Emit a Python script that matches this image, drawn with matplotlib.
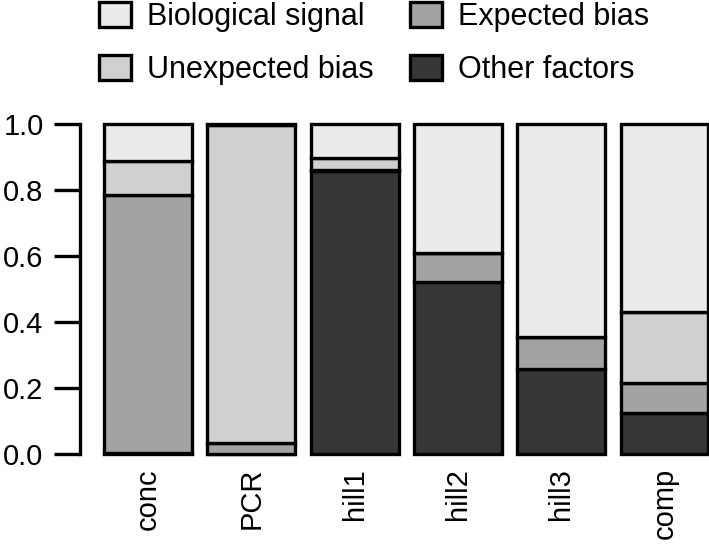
import matplotlib
matplotlib.use('Agg')
import matplotlib.pyplot as plt
import numpy as np

plt.rcParams['font.family'] = ['Liberation Sans', 'DejaVu Sans']

# stacked shares, bottom to top
categories = ['conc', 'PCR', 'hill1', 'hill2', 'hill3', 'comp']
other = [0.003, 0.0, 0.858, 0.520, 0.257, 0.123]
expected = [0.782, 0.034, 0.002, 0.090, 0.099, 0.093]
unexpected = [0.104, 0.963, 0.038, 0.0, 0.0, 0.213]
bio = [0.111, 0.003, 0.102, 0.390, 0.644, 0.571]

labels = ['Other factors', 'Expected bias', 'Unexpected bias', 'Biological signal']
colors = ['#363636', '#a3a3a3', '#d0d0d0', '#ebebeb']

W, H = 709, 545
fig = plt.figure(figsize=(W / 100, H / 100), dpi=100)
ax = fig.add_axes([95 / W, (H - 454) / H, 1 - 95 / W, (454 - 124) / H])

x = np.arange(len(categories))
bottom = np.zeros(len(categories))
handles = {}
for vals, lab, col in zip([other, expected, unexpected, bio], labels, colors):
    b = ax.bar(x, vals, width=0.85, bottom=bottom, color=col,
               edgecolor='black', linewidth=2.4, label=lab, clip_on=False)
    handles[lab] = b
    bottom += np.array(vals)

ax.set_xlim(-0.513, 5.43)
ax.set_ylim(0, 1)
ax.set_xticks(x)
ax.set_xticklabels(categories, rotation=90, fontsize=21)
ax.tick_params(axis='x', length=0, pad=10)
ax.set_yticks([0, 0.2, 0.4, 0.6, 0.8, 1.0])
ax.set_yticklabels(['0.0', '0.2', '0.4', '0.6', '0.8', '1.0'])
ax.tick_params(axis='y', length=19, width=2.4, labelsize=21, pad=7)

for s in ['top', 'right', 'bottom']:
    ax.spines[s].set_visible(False)
ax.spines['left'].set_position(('outward', 11))
ax.spines['left'].set_linewidth(2.4)
ax.spines['left'].set_bounds(0, 1)

order = ['Biological signal', 'Unexpected bias', 'Expected bias', 'Other factors']
fig.legend([handles[k] for k in order], order, loc='upper left',
           bbox_to_anchor=(99 / W, 0.997), ncol=2, frameon=False, fontsize=22,
           borderpad=0, borderaxespad=0, handlelength=1.05, handleheight=0.88,
           handletextpad=0.52, columnspacing=1.2, labelspacing=0.76)

plt.savefig('out.png', dpi=100)
